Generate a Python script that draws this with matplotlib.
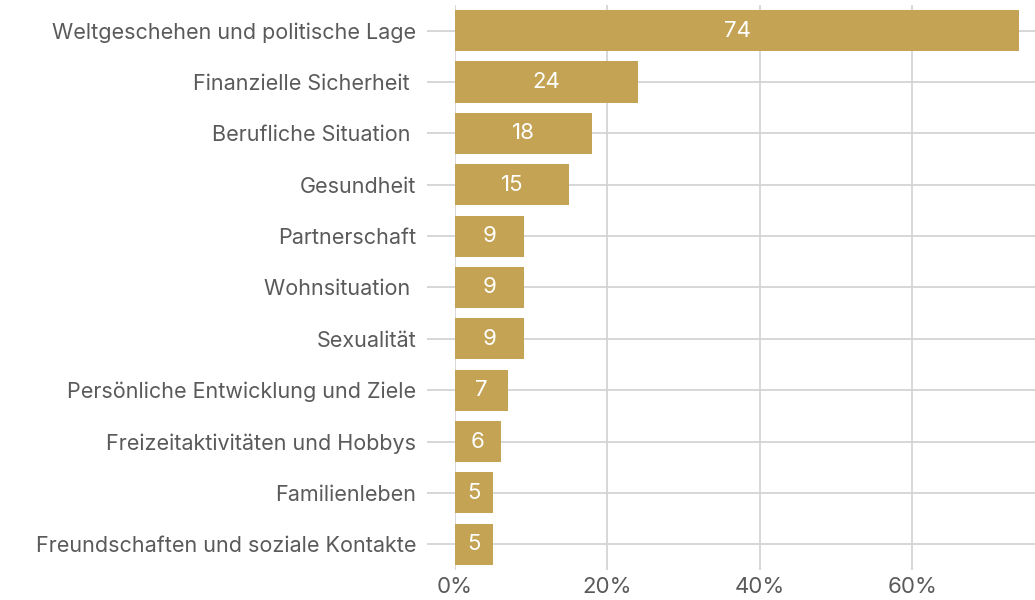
import matplotlib.pyplot as plt
import numpy as np

categories = ["Weltgeschehen und politische Lage", "Finanzielle Sicherheit ",
              "Berufliche Situation ", "Gesundheit", "Partnerschaft",
              "Wohnsituation ", "Sexualität", "Persönliche Entwicklung und Ziele",
              "Freizeitaktivitäten und Hobbys", "Familienleben",
              "Freundschaften und soziale Kontakte"]
values = [74, 24, 18, 15, 9, 9, 9, 7, 6, 5, 5]
xticks = [0, 20, 40, 60]
xticklabels = ["0%", "20%", "40%", "60%"]

gold = "#C4A454"
grid = "#d4d4d4"
txt = "#5a5a5a"

plt.rcParams['font.family'] = ['Inter', 'DejaVu Sans']

fig = plt.figure(figsize=(10.35, 6), dpi=100)
ax = fig.add_axes([0.4396, 0.05, 0.5604, 0.9417])

y = np.arange(len(categories))
ax.barh(y, values, height=0.8, color=gold, zorder=3)
for yi, v in zip(y, values):
    ax.text(v / 2, yi, str(v), color="white", ha="center", va="center",
            fontsize=16, zorder=4)

ax.set_ylim(len(categories) - 0.5, -0.5)
ax.set_xlim(0, 76.1)
ax.set_yticks(y)
ax.set_yticklabels(categories)
ax.set_xticks(xticks)
ax.set_xticklabels(xticklabels)

ax.grid(True, color=grid, linewidth=1.3, zorder=0)
for s in ax.spines.values():
    s.set_visible(False)
ax.tick_params(axis="y", length=20, width=1.3, color=grid, pad=8,
               labelsize=15.5, labelcolor=txt)
ax.tick_params(axis="x", length=0, pad=5, labelsize=16, labelcolor=txt)

fig.savefig("out.png", dpi=100)
